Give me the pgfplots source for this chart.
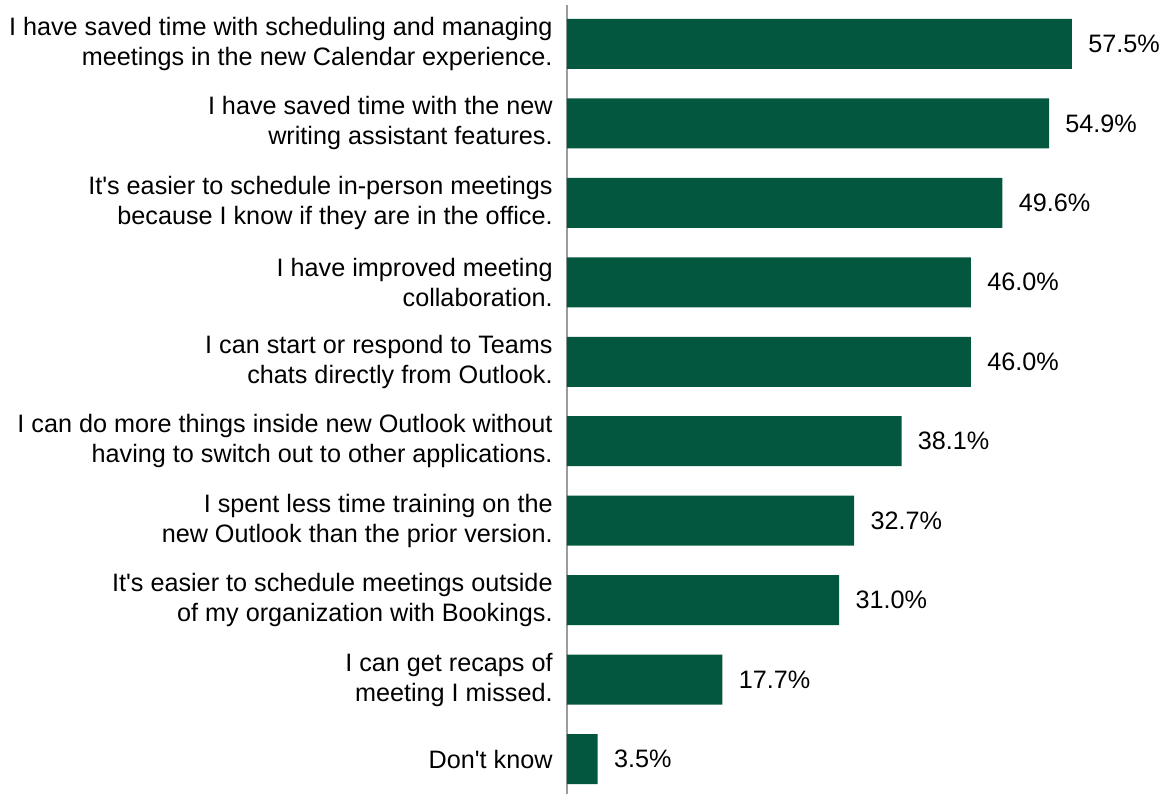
\documentclass[border=0pt]{standalone}
\usepackage{pgfplots}
\pgfplotsset{compat=1.18}
\usepackage{fontspec}
\setmainfont{Liberation Sans}
\definecolor{barfill}{HTML}{03573F}
\definecolor{axisgray}{HTML}{9C9C9C}

\begin{document}
\begin{tikzpicture}
\begin{axis}[
  at={(0,0)}, anchor=south west,
  scale only axis, width=300.5pt, height=394.5pt,
  xbar, bar width=25pt, bar shift=0pt,
  xmin=0, xmax=68.45, ymin=-0.49, ymax=9.44, y dir=reverse,
  axis x line=none, axis y line*=left,
  axis line style={-, axisgray, line width=1.4pt},
  ytick={0,...,9}, major tick length=0pt, ytick style={draw=none},
  yticklabels={
    {I have saved time with scheduling and managing\\meetings in the new Calendar experience.},
    {I have saved time with the new\\writing assistant features.},
    {It\textquotesingle s easier to schedule in-person meetings\\because I know if they are in the office.},
    {I have improved meeting\\collaboration.},
    {I can start or respond to Teams\\chats directly from Outlook.},
    {I can do more things inside new Outlook without\\having to switch out to other applications.},
    {I spent less time training on the\\new Outlook than the prior version.},
    {It\textquotesingle s easier to schedule meetings outside\\of my organization with Bookings.},
    {I can get recaps of\\meeting I missed.},
    {Don\textquotesingle t know}},
  yticklabel style={align=right, inner sep=0pt, xshift=-7pt,
    font=\fontsize{12.6}{15}\selectfont},
  nodes near coords={\pgfmathprintnumber[assume math mode=true,fixed,fixed zerofill,precision=1]{\pgfplotspointmeta}\%},
  point meta=x,
  every node near coord/.append style={font=\fontsize{12.6}{15}\selectfont, inner sep=0pt, xshift=8pt, anchor=west, black},
  clip=false,
]
\addplot[fill=barfill, draw=none] coordinates {
  (57.5,0) (54.9,1) (49.6,2) (46.0,3) (46.0,4)
  (38.1,5) (32.7,6) (31.0,7) (17.7,8) (3.5,9)
};
\end{axis}
\pgfresetboundingbox
\path[use as bounding box] (-283.5pt,0pt) rectangle (300.5pt,397pt);
\end{tikzpicture}
\end{document}
